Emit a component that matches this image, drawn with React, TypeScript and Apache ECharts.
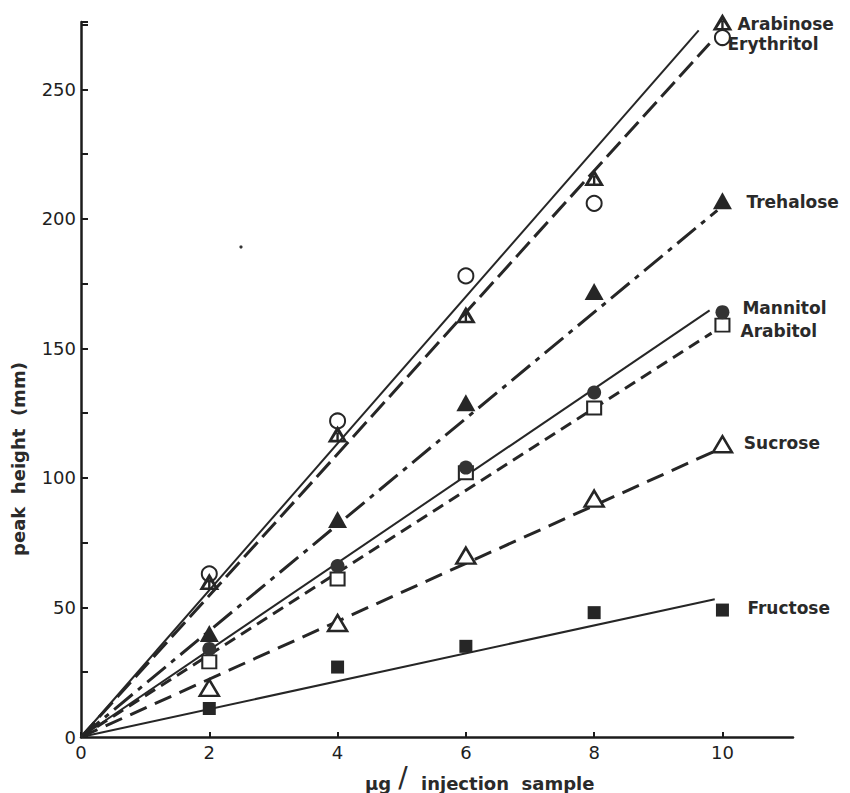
import React, { useEffect, useRef } from "react";
import * as echarts from "echarts";

// ---- data ----
const doses = [2, 4, 6, 8, 10];
const arabinose = [60, 117, 163, 216, 276];
const erythritol = [63, 122, 178, 206, 270];
const trehalose = [40, 84, 129, 172, 207];
const mannitol = [34, 66, 104, 133, 164];
const arabitol = [29, 61, 102, 127, 159];
const sucrose = [19, 44, 70, 92, 113];
const fructose = [11, 27, 35, 48, 49];

// fitted lines drawn through the origin (start, end)
const arabinoseFit = [[0, 0], [9.63, 272.8]];
const erythritolFit = [[0, 0], [9.8, 267.7]];
const trehaloseFit = [[0, 0], [9.92, 203.3]];
const mannitolFit = [[0, 0], [9.8, 164.7]];
const arabitolFit = [[0, 0], [9.83, 155.9]];
const sucroseFit = [[0, 0], [9.85, 110]];
const fructoseFit = [[0, 0], [9.88, 53.2]];

const xTicks = [0, 2, 4, 6, 8, 10];
const yLabelStep = 50;

const INK = "#262626";
const FONT = "DejaVu Sans";

const ARABINOSE_SYMBOL =
  "path://M10 0 L20 18 L0 18 Z M10 6.8 L4.8 15.3 L15.2 15.3 Z M8.8 7.5 L11.2 7.5 L11.2 15.3 L8.8 15.3 Z";

type Spec = {
  name: string;
  values: number[];
  fit: number[][];
  symbol: string;
  size: number | number[];
  fill: string;
  border: number;
  dash: any;
  lineWidth: number;
  offset: number[];
};

const specs: Spec[] = [
  { name: "Fructose", values: fructose, fit: fructoseFit, symbol: "rect", size: 13, fill: INK, border: 0, dash: "solid", lineWidth: 2, offset: [18.5, -2] },
  { name: "Sucrose", values: sucrose, fit: sucroseFit, symbol: "triangle", size: [19, 16], fill: "#fff", border: 2.5, dash: [18, 9], lineWidth: 3, offset: [10.5, -1] },
  { name: "Arabitol", values: arabitol, fit: arabitolFit, symbol: "rect", size: [14, 13], fill: "#fff", border: 2, dash: [12, 7], lineWidth: 3, offset: [10, 6] },
  { name: "Mannitol", values: mannitol, fit: mannitolFit, symbol: "circle", size: 14, fill: "#333", border: 0, dash: "solid", lineWidth: 2, offset: [13, -4] },
  { name: "Trehalose", values: trehalose, fit: trehaloseFit, symbol: "triangle", size: [19, 17], fill: INK, border: 0, dash: [24, 7, 5, 7], lineWidth: 3, offset: [14.5, 1] },
  { name: "Erythritol", values: erythritol, fit: erythritolFit, symbol: "circle", size: 15, fill: "#fff", border: 2, dash: [20, 7], lineWidth: 3, offset: [-3.5, 6] },
  { name: "Arabinose", values: arabinose, fit: arabinoseFit, symbol: ARABINOSE_SYMBOL, size: [20, 17], fill: INK, border: 0, dash: "solid", lineWidth: 2, offset: [5, 1.5] },
];

export default function App() {
  const ref = useRef<HTMLDivElement>(null);

  useEffect(() => {
    if (!ref.current) return;
    const chart = echarts.init(ref.current, undefined, { renderer: "svg" });

    const lineSeries = specs.map((s) => ({
      type: "line",
      name: s.name + " fit",
      data: s.fit,
      symbol: "none",
      silent: true,
      z: 2,
      lineStyle: { color: INK, width: s.lineWidth, type: s.dash, cap: "butt" },
    }));

    const pointSeries = specs.map((s) => ({
      type: "scatter",
      name: s.name,
      z: 5,
      symbol: s.symbol,
      symbolSize: s.size,
      itemStyle: {
        color: s.fill,
        borderColor: INK,
        borderWidth: s.border,
        opacity: 1,
      },
      data: doses.map((x, i) =>
        i === doses.length - 1
          ? {
              value: [x, s.values[i]],
              label: {
                show: true,
                formatter: s.name,
                position: "right",
                distance: 0,
                offset: s.offset,
                fontFamily: FONT,
                fontWeight: "bold",
                fontSize: 17,
                lineHeight: 18,
                color: "#2a2a2a",
              },
            }
          : [x, s.values[i]]
      ),
    }));

    chart.setOption({
      animation: false,
      backgroundColor: "#ffffff",
      grid: { left: 81, right: 57, top: 22, bottom: 56, containLabel: false },
      xAxis: {
        type: "value",
        min: 0,
        max: 11.1,
        interval: 2,
        splitLine: { show: false },
        axisLine: { lineStyle: { color: "#1c1c1c", width: 2.5 } },
        axisTick: {
          show: true,
          inside: true,
          length: 5,
          customValues: xTicks,
          lineStyle: { color: "#1c1c1c", width: 2 },
        },
        axisLabel: {
          customValues: xTicks,
          margin: 6,
          fontFamily: FONT,
          fontSize: 18,
          color: "#1e1e1e",
          formatter: (v: number) => (xTicks.indexOf(v) >= 0 ? String(v) : ""),
        },
      },
      yAxis: {
        type: "value",
        min: 0,
        max: 276,
        interval: 25,
        splitLine: { show: false },
        axisLine: { lineStyle: { color: "#1c1c1c", width: 2.5 } },
        axisTick: {
          show: true,
          inside: true,
          length: 7,
          lineStyle: { color: "#1c1c1c", width: 2 },
        },
        axisLabel: {
          margin: 5,
          fontFamily: FONT,
          fontSize: 18,
          color: "#1e1e1e",
          formatter: (v: number) => (v % yLabelStep === 0 && v <= 250 ? String(v) : ""),
        },
      },
      graphic: [
        {
          type: "text",
          x: 18,
          y: 459,
          rotation: Math.PI / 2,
          style: {
            text: "peak  height  (mm)",
            fontFamily: FONT,
            fontWeight: "bold",
            fontSize: 18,
            fill: "#2a2a2a",
            align: "center",
            verticalAlign: "middle",
          },
        },
        {
          type: "text",
          x: 365,
          y: 783,
          style: {
            text: "µg",
            fontFamily: FONT,
            fontWeight: "bold",
            fontSize: 18,
            fill: "#2a2a2a",
            align: "left",
            verticalAlign: "middle",
          },
        },
        {
          type: "text",
          x: 403,
          y: 777,
          style: {
            text: "/",
            fontFamily: FONT,
            fontSize: 28,
            fill: "#2a2a2a",
            align: "center",
            verticalAlign: "middle",
          },
        },
        {
          type: "text",
          x: 421,
          y: 783,
          style: {
            text: "injection  sample",
            fontFamily: FONT,
            fontWeight: "bold",
            fontSize: 18,
            fill: "#2a2a2a",
            align: "left",
            verticalAlign: "middle",
          },
        },
        {
          type: "circle",
          shape: { cx: 241, cy: 247, r: 1.6 },
          style: { fill: "#333" },
        },
      ],
      series: [...lineSeries, ...pointSeries],
    });

    return () => chart.dispose();
  }, []);

  return (
    <div
      ref={ref}
      style={{ position: "fixed", left: 0, top: 0, width: 850, height: 793, background: "#fff" }}
    />
  );
}
